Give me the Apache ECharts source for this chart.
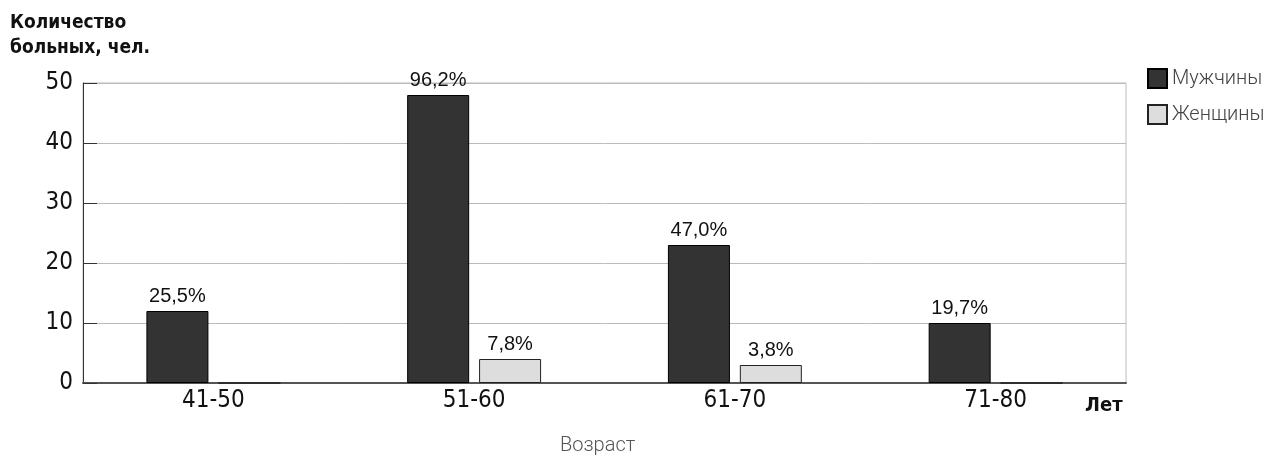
<!DOCTYPE html>
<html><head><meta charset="utf-8">
<script src="https://cdn.jsdelivr.net/npm/echarts@6/dist/echarts.min.js"></script>
<style>html,body{margin:0;padding:0;background:#fff}#c{width:1283px;height:457px}</style>
</head><body><div id="c"></div>
<script>
const categories = ['41-50', '51-60', '61-70', '71-80'];
const menValues = [12, 48, 23, 10];
const womenValues = [0, 4, 3, 0];
const menLabels = ['25,5%', '96,2%', '47,0%', '19,7%'];
const womenLabels = ['', '7,8%', '3,8%', ''];
const yTicks = [0, 10, 20, 30, 40, 50];

const NARROW = '"Liberation Sans Narrow", "DejaVu Sans Condensed", sans-serif';
const chart = echarts.init(document.getElementById('c'), null, {renderer: 'canvas'});
chart.setOption({
  animation: false,
  backgroundColor: '#fff',
  title: [
    {text: 'Количество\nбольных, чел.', left: 5, top: 6,
     textStyle: {fontFamily: NARROW, fontSize: 19, fontWeight: 'bold', color: '#111', lineHeight: 25}},
    {text: 'Лет', left: 1080, top: 391,
     textStyle: {fontFamily: NARROW, fontSize: 20, fontWeight: 'bold', color: '#111'}},
    {text: 'Возраст', left: 555, top: 431,
     textStyle: {fontFamily: 'Roboto, sans-serif', fontSize: 20, fontWeight: 300, color: '#555'}}
  ],
  legend: {
    orient: 'vertical', left: 1142, top: 63,
    itemWidth: 19, itemHeight: 19, itemGap: 15,
    icon: 'rect',
    textStyle: {fontFamily: 'Roboto, sans-serif', fontSize: 20, fontWeight: 300, color: '#444'},
    data: ['Мужчины', 'Женщины']
  },
  grid: {left: 83, right: 157, top: 83, bottom: 74, show: true, borderColor: '#bbb', borderWidth: 1},
  xAxis: {
    type: 'category', data: categories,
    axisLine: {lineStyle: {color: '#555', width: 2}},
    axisTick: {inside: true, length: 7, lineStyle: {color: '#333'}},
    axisLabel: {fontFamily: NARROW, fontSize: 24, color: '#111', margin: 6}
  },
  yAxis: {
    type: 'value', min: yTicks[0], max: yTicks[yTicks.length - 1], interval: 10,
    axisLine: {show: true, lineStyle: {color: '#333'}},
    axisTick: {show: true, inside: true, length: 14, lineStyle: {color: '#333'}},
    splitLine: {lineStyle: {color: '#bbb'}},
    axisLabel: {fontFamily: NARROW, fontSize: 24, color: '#111', margin: 10}
  },
  series: [
    {name: 'Мужчины', type: 'bar', data: menValues, barWidth: 62, barGap: '16%',
     itemStyle: {color: '#333', borderColor: '#000', borderWidth: 1},
     label: {show: true, position: 'top', distance: 5, fontFamily: '"Liberation Sans", Arial, sans-serif', fontSize: 20, color: '#111',
       formatter: p => menLabels[p.dataIndex]}},
    {name: 'Женщины', type: 'bar', data: womenValues, barWidth: 62,
     itemStyle: {color: '#ddd', borderColor: '#222', borderWidth: 1},
     label: {show: true, position: 'top', distance: 5, fontFamily: '"Liberation Sans", Arial, sans-serif', fontSize: 20, color: '#111',
       formatter: p => womenLabels[p.dataIndex]}}
  ]
});
</script></body></html>
